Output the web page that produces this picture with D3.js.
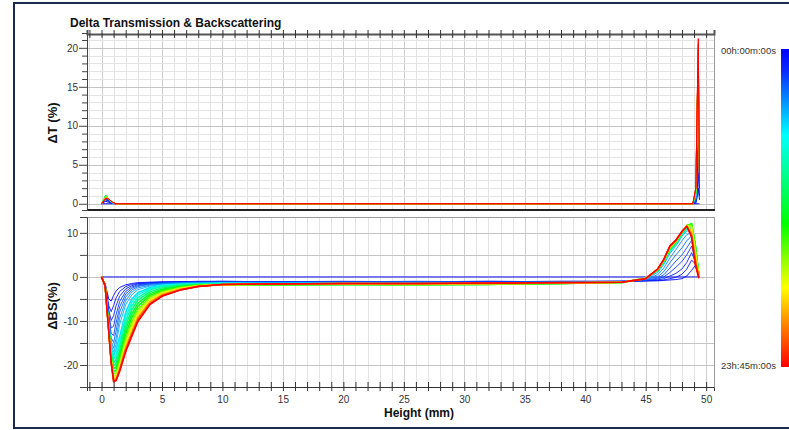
<!DOCTYPE html>
<html><head><meta charset="utf-8">
<script src="https://cdn.jsdelivr.net/npm/d3@7"></script>
<style>html,body{margin:0;padding:0;background:#fff;} svg{display:block;font-family:"Liberation Sans",Arial,sans-serif;}</style>
</head><body><svg id="c" width="789" height="430"></svg>
<script>
// ---------------- DATA ----------------
const title = "Delta Transmission & Backscattering";
const xLabel = "Height (mm)";
const yLabelT = "ΔT (%)";
const yLabelB = "ΔBS(%)";
const timeLabels = ["00h:00m:00s", "23h:45m:00s"];
const xTickLabels = [0, 5, 10, 15, 20, 25, 30, 35, 40, 45, 50];
const yTickLabelsT = [0, 5, 10, 15, 20];
const yTickLabelsB = [-20, -10, 0, 10];

// fraction of elapsed time (0 = 00h00, 1 = 23h45) for each scan
const scanTime = [0, 0.015, 0.035, 0.055, 0.08, 0.105, 0.13, 0.16, 0.19,
  0.24, 0.30, 0.36, 0.42, 0.49, 0.56, 0.63, 0.70, 0.77, 0.84, 0.90, 0.95, 1.0];

// heights (mm) at which Delta BS is read
const heightsBS = [0, 0.3, 0.6, 0.8, 1.0, 1.2, 1.5, 2.0, 2.5, 3.0, 4.0, 5.0, 6.5, 8.0,
  10, 14, 20, 26, 32, 38, 43,
  45, 46, 46.5, 47, 47.5, 48, 48.4, 48.8, 49.1, 49.4];

// Delta BS (%) per scan  (dip | flat | top peak)
const deltaBS = [
  [0,0,0,0,0,0,0,0,0,0,0,0,0,0, 0,0,0,0,0,0,0, 0,0,0,0,0,0,0,0,0,0],
  [0,-1.5,-5.0,-5.5,-4.2,-3.2,-2.4,-1.8,-1.5,-1.3,-1.2,-1.1,-1.1,-1.0, -1.0,-1.1,-1.0,-1.1,-1.0,-1.1,-1.0, -0.9,-0.9,-0.8,-0.7,-0.6,-0.4,0.2,1.5,2.6,0],
  [0,-1.6,-6.5,-7.9,-6.5,-4.8,-3.3,-2.2,-1.7,-1.5,-1.3,-1.2,-1.1,-1.1, -1.0,-1.1,-1.1,-1.0,-1.1,-1.0,-1.0, -0.9,-0.8,-0.7,-0.4,-0.1,0.6,1.8,3.8,3.0,0],
  [0,-1.6,-7.5,-9.9,-8.8,-6.6,-4.4,-2.7,-2.0,-1.6,-1.4,-1.3,-1.2,-1.1, -1.1,-1.1,-1.2,-1.1,-1.0,-1.1,-1.0, -0.9,-0.7,-0.4,0.2,0.8,1.8,3.3,5.5,3.5,0],
  [0,-1.7,-8.5,-11.6,-11.2,-8.6,-5.6,-3.3,-2.3,-1.8,-1.5,-1.3,-1.2,-1.2, -1.1,-1.2,-1.1,-1.2,-1.1,-1.0,-1.0, -0.8,-0.5,0.0,1.0,2.2,3.5,5.0,7.0,4.0,0],
  [0,-1.7,-9.2,-12.8,-13.3,-10.5,-6.8,-3.9,-2.6,-2.0,-1.6,-1.4,-1.3,-1.2, -1.2,-1.2,-1.2,-1.1,-1.2,-1.1,-1.0, -0.7,-0.3,0.5,2.0,3.6,5.0,6.6,8.3,4.5,0],
  [0,-1.8,-9.8,-13.8,-14.9,-12.3,-8.0,-4.6,-3.0,-2.2,-1.7,-1.5,-1.3,-1.3, -1.2,-1.3,-1.2,-1.2,-1.3,-1.2,-1.1, -0.6,0.0,1.2,3.2,5.0,6.6,8.2,9.3,5.0,0],
  [0,-1.8,-10.3,-14.6,-16.2,-14.0,-9.4,-5.4,-3.5,-2.5,-1.9,-1.6,-1.4,-1.3, -1.3,-1.3,-1.3,-1.2,-1.3,-1.2,-1.1, -0.5,0.5,2.0,4.3,6.2,8.2,9.6,10.1,5.5,0],
  [0,-1.9,-10.8,-15.3,-17.1,-15.4,-10.8,-6.3,-4.1,-2.9,-2.1,-1.7,-1.5,-1.4, -1.3,-1.4,-1.3,-1.3,-1.3,-1.2,-1.1, -0.4,1.0,2.8,5.3,7.0,9.2,10.4,10.7,6.0,0],
  [0,-1.9,-11.2,-16.0,-17.9,-16.5,-13.5,-8.0,-5.0,-3.6,-2.4,-1.9,-1.6,-1.5, -1.4,-1.5,-1.4,-1.5,-1.4,-1.3,-1.2, -0.3,1.4,3.3,5.8,7.5,9.6,10.8,11.0,6.5,0.5],
  [0,-1.9,-11.4,-16.5,-18.7,-17.6,-14.6,-9.0,-5.8,-4.1,-2.7,-2.0,-1.7,-1.6, -1.5,-1.6,-1.5,-1.6,-1.5,-1.4,-1.2, -0.3,1.4,3.4,5.9,7.6,9.7,11.0,11.3,6.8,0.4],
  [0,-2.0,-11.6,-17.0,-19.5,-18.6,-15.6,-10.0,-6.6,-4.7,-3.0,-2.2,-1.8,-1.6, -1.6,-1.7,-1.6,-1.6,-1.6,-1.4,-1.3, -0.3,1.5,3.5,6.0,7.7,9.8,11.2,11.6,7.0,0.4],
  [0,-2.0,-11.8,-17.5,-20.2,-19.6,-16.6,-11.0,-7.5,-5.3,-3.4,-2.5,-1.9,-1.7, -1.7,-1.8,-1.7,-1.7,-1.6,-1.5,-1.3, -0.3,1.5,3.6,6.2,7.8,9.9,11.4,11.8,7.2,0.3],
  [0,-2.0,-11.9,-17.9,-20.8,-20.5,-17.5,-12.0,-8.4,-6.0,-3.8,-2.8,-2.1,-1.8, -1.7,-1.8,-1.7,-1.8,-1.7,-1.5,-1.3, -0.3,1.6,3.6,6.3,7.9,10.0,11.6,12.0,7.4,0.3],
  [0,-2.0,-12.0,-18.3,-21.4,-21.3,-18.4,-13.0,-9.3,-6.7,-4.2,-3.1,-2.3,-1.9, -1.8,-1.8,-1.7,-1.8,-1.7,-1.5,-1.3, -0.3,1.6,3.7,6.4,8.0,10.1,11.7,12.1,7.3,0.2],
  [0,-2.0,-12.1,-18.6,-22.0,-21.9,-19.2,-14.0,-10.2,-7.4,-4.6,-3.3,-2.4,-1.9, -1.8,-1.7,-1.7,-1.7,-1.6,-1.5,-1.3, -0.3,1.6,3.7,6.5,8.0,10.1,11.7,11.8,6.8,0.2],
  [0,-2.0,-12.2,-18.8,-22.5,-22.4,-19.9,-14.8,-11.0,-8.0,-5.0,-3.6,-2.5,-2.0, -1.8,-1.7,-1.6,-1.7,-1.6,-1.4,-1.3, -0.3,1.7,3.8,6.6,8.1,10.2,11.6,11.4,6.0,0.1],
  [0,-2.0,-12.3,-19.0,-22.9,-22.8,-20.4,-15.5,-11.8,-8.6,-5.4,-3.8,-2.7,-2.0, -1.8,-1.6,-1.6,-1.6,-1.5,-1.4,-1.2, -0.3,1.7,3.8,6.7,8.2,10.2,11.6,10.6,5.0,0.0],
  [0,-2.0,-12.4,-19.2,-23.2,-23.1,-20.8,-16.0,-12.5,-9.2,-5.7,-4.0,-2.8,-2.1, -1.7,-1.6,-1.5,-1.6,-1.5,-1.4,-1.2, -0.4,1.7,3.9,6.8,8.2,10.2,11.5,10.0,4.3,0.0],
  [0,-2.0,-12.4,-19.3,-23.5,-23.3,-21.1,-16.4,-13.0,-9.6,-6.0,-4.2,-2.9,-2.1, -1.7,-1.6,-1.5,-1.5,-1.5,-1.4,-1.2, -0.4,1.8,3.9,6.9,8.3,10.3,11.5,9.5,3.8,-0.1],
  [0,-2.0,-12.5,-19.4,-23.7,-23.5,-21.3,-16.7,-13.3,-9.9,-6.2,-4.3,-3.0,-2.2, -1.7,-1.6,-1.5,-1.5,-1.4,-1.3,-1.2, -0.4,1.8,4.0,7.0,8.3,10.3,11.5,9.2,3.2,-0.2],
  [0,-2.0,-12.5,-19.5,-23.8,-23.6,-21.5,-17.0,-13.5,-10.2,-6.3,-4.4,-3.0,-2.2, -1.7,-1.6,-1.5,-1.5,-1.4,-1.3,-1.2, -0.4,1.8,4.0,7.0,8.4,10.3,11.5,9.0,2.8,-0.3]
];

// heights (mm) at which Delta T is read
const heightsT = [0, 0.2, 0.35, 0.6, 0.9, 1.2, 10, 20, 30, 40, 48.9, 49.15, 49.25, 49.35, 49.45];

// Delta T (%) per scan
const deltaT = [
  [0,0,0,0,0,0, 0,0,0,0, 0,0,0,0,0],
  [0,0.2,0.3,0.2,0.05,0, 0,0,0,0, 0,0.1,0.8,2.0,0.5],
  [0,0.3,0.5,0.3,0.05,0, 0,0,0,0, 0,0.2,1.5,4.0,1.0],
  [0,0.3,0.6,0.3,0.1,0, 0,0,0,0, 0,0.3,3.0,7.0,2.0],
  [0,0.4,0.7,0.4,0.1,0, 0,0,0,0, 0,0.4,5.0,10.0,3.0],
  [0,0.4,0.8,0.4,0.1,0, 0,0,0,0, 0,0.5,7.0,13.0,4.0],
  [0,0.5,0.9,0.5,0.1,0, 0,0,0,0, 0,0.6,9.0,15.0,5.0],
  [0,0.5,1.0,0.5,0.1,0, 0,0,0,0, 0,0.7,10.0,16.5,5.6],
  [0,0.5,1.0,0.5,0.1,0, 0,0,0,0, 0,0.8,11.0,17.0,5.6],
  [0,0.5,1.0,0.5,0.15,0, 0,0,0,0, 0,1.0,11.0,17.2,5.0],
  [0,0.5,1.05,0.55,0.15,0, 0,0,0,0, 0,1.1,11.2,17.4,4.8],
  [0,0.55,1.1,0.6,0.15,0, 0,0,0,0, 0,1.2,11.3,17.5,4.6],
  [0,0.55,1.1,0.6,0.2,0, 0,0,0,0, 0,1.3,11.4,17.7,4.4],
  [0,0.6,1.1,0.6,0.2,0, 0,0,0,0, 0,1.4,11.5,17.8,4.2],
  [0,0.55,1.05,0.6,0.2,0, 0,0,0,0, 0,1.5,11.6,18.0,4.0],
  [0,0.5,1.0,0.6,0.2,0, 0,0,0,0, 0,1.6,11.7,18.2,3.8],
  [0,0.5,0.9,0.6,0.2,0, 0,0,0,0, 0,1.7,11.8,18.5,3.6],
  [0,0.45,0.85,0.6,0.2,0, 0,0,0,0, 0,1.8,11.8,18.9,3.4],
  [0,0.45,0.8,0.6,0.2,0, 0,0,0,0, 0,1.9,11.9,19.3,3.2],
  [0,0.4,0.75,0.6,0.2,0, 0,0,0,0, 0,2.0,11.9,19.8,3.0],
  [0,0.4,0.7,0.6,0.2,0, 0,0,0,0, 0,2.0,12.0,20.5,2.8],
  [0,0.4,0.7,0.6,0.2,0, 0,0,0,0, 0,2.0,12.0,21.2,2.5]
];

// colour bar (time fraction -> colour)
const colorStops = [0, 0.07, 0.27, 0.55, 0.75, 0.87, 1];
const colorRange = ["#0000ff", "#0a2cff", "#00ffff", "#00ff00", "#ffff00", "#ff8000", "#ff0000"];

// ---------------- DRAW ----------------
const svg = d3.select("#c");
const L = 87, R = 714;
const topT = 33, botT = 210, topB = 217, botB = 387;

const x = d3.scaleLinear().domain([-1.2, 50.65]).range([L, R]);
const yT = d3.scaleLinear().domain([-0.8, 21.9]).range([botT, topT]);
const yB = d3.scaleLinear().domain([-25, 13.6]).range([botB, topB]);
const color = d3.scaleLinear().domain(colorStops).range(colorRange).interpolate(d3.interpolateRgb);

const defs = svg.append("defs");
defs.append("clipPath").attr("id", "clipT").append("rect")
  .attr("x", L).attr("y", topT).attr("width", R - L).attr("height", botT - topT);
defs.append("clipPath").attr("id", "clipB").append("rect")
  .attr("x", L).attr("y", topB).attr("width", R - L).attr("height", botB - topB);

// outer frame
svg.append("rect").attr("x", 14).attr("y", 3).attr("width", 800).attr("height", 425)
  .attr("fill", "none").attr("stroke", "#1b2a4e").attr("stroke-width", 2);

// title
svg.append("text").attr("x", 70).attr("y", 26.5).attr("font-size", 12).attr("font-weight", "bold")
  .attr("fill", "#111").text(title);

const xGrid = d3.range(-1, 51);

function drawGrid(y0, y1, hLines, isMajorH) {
  const g = svg.append("g");
  g.selectAll("line.v").data(xGrid).join("line")
    .attr("x1", d => Math.round(x(d)) + 0.5).attr("x2", d => Math.round(x(d)) + 0.5)
    .attr("y1", y0).attr("y2", y1)
    .attr("stroke", d => d % 5 === 0 ? "#cfcfcf" : "#e4e4e4").attr("stroke-width", 1);
  g.selectAll("line.h").data(hLines).join("line")
    .attr("x1", L).attr("x2", R)
    .attr("y1", d => Math.round(d.y) + 0.5).attr("y2", d => Math.round(d.y) + 0.5)
    .attr("stroke", d => isMajorH(d.v) ? "#c4c4c4" : "#e4e4e4").attr("stroke-width", 1);
}
drawGrid(topT, botT, d3.range(0, 22).map(v => ({v, y: yT(v)})), v => v % 5 === 0);
drawGrid(topB, botB, d3.range(-25, 11, 5).map(v => ({v, y: yB(v)})), v => true);

// curves
function drawCurves(clip, heights, rows, yScale, widthFn) {
  const g = svg.append("g").attr("clip-path", `url(#${clip})`);
  const line = d3.line().x(d => x(d[0])).y(d => yScale(d[1])).defined(d => d[1] != null && !isNaN(d[1]));
  rows.forEach((row, i) => {
    const pts = heights.map((h, j) => [h, row[j]]);
    g.append("path").attr("d", line(pts)).attr("fill", "none")
      .attr("stroke", color(scanTime[i])).attr("stroke-width", widthFn(i))
      .attr("stroke-linejoin", "round");
  });
}
drawCurves("clipT", heightsT, deltaT, yT, i => 1);
drawCurves("clipB", heightsBS, deltaBS, yB, i => i < 9 ? 0.9 : 1.5);

// panel borders
svg.append("line").attr("x1", R + 0.5).attr("x2", R + 0.5).attr("y1", topT).attr("y2", botT).attr("stroke", "#9a9a9a");
svg.append("line").attr("x1", R + 0.5).attr("x2", R + 0.5).attr("y1", topB).attr("y2", botB).attr("stroke", "#9a9a9a");
svg.append("line").attr("x1", L).attr("x2", R).attr("y1", topB + 0.5).attr("y2", topB + 0.5).attr("stroke", "#9a9a9a");
svg.append("line").attr("x1", L).attr("x2", R + 1).attr("y1", botT).attr("y2", botT).attr("stroke", "#222").attr("stroke-width", 2);

// top x-axis (ticks crossing) of the ΔT panel
const axTop = svg.append("g").attr("transform", `translate(0,${topT + 1})`)
  .call(d3.axisTop(x).tickValues(xGrid).tickSize(4).tickFormat(""));
axTop.select(".domain").attr("stroke", "#555").attr("stroke-width", 2);
axTop.selectAll(".tick line").attr("y2", -4).attr("y1", 4).attr("stroke", "#333");

// bottom x-axis
const axB = svg.append("g").attr("transform", `translate(0,${botB})`)
  .call(d3.axisBottom(x).tickValues(xGrid).tickSize(4).tickPadding(5)
    .tickFormat(d => xTickLabels.includes(d) ? String(d) : ""));
axB.select(".domain").attr("stroke", "#333");
axB.selectAll(".tick line").attr("y1", -5).attr("y2", 4).attr("stroke", "#333");
axB.selectAll(".tick text").attr("font-size", 10).attr("fill", "#333").attr("font-family", "Liberation Sans, Arial, sans-serif");

// left axis ΔT
const axLT = svg.append("g").attr("transform", `translate(${L},0)`)
  .call(d3.axisLeft(yT).tickValues(d3.range(0, 22)).tickSize(5).tickPadding(4)
    .tickFormat(d => yTickLabelsT.includes(d) ? String(d) : ""));
axLT.select(".domain").attr("stroke", "#444");
axLT.selectAll(".tick line").attr("x2", d => d % 5 === 0 ? -8 : -5).attr("stroke", "#444");
axLT.selectAll(".tick text").attr("x", -9).attr("font-size", 10).attr("fill", "#333").attr("font-family", "Liberation Sans, Arial, sans-serif");

// left axis ΔBS
const axLB = svg.append("g").attr("transform", `translate(${L},0)`)
  .call(d3.axisLeft(yB).tickValues(d3.range(-25, 11, 5)).tickSize(7).tickPadding(2)
    .tickFormat(d => yTickLabelsB.includes(d) ? String(d) : ""));
axLB.select(".domain").attr("stroke", "#444");
axLB.selectAll(".tick line").attr("stroke", "#444");
axLB.selectAll(".tick text").attr("font-size", 10).attr("fill", "#333").attr("font-family", "Liberation Sans, Arial, sans-serif");

// axis labels
svg.append("text").attr("transform", "translate(57,123) rotate(-90)").attr("text-anchor", "middle")
  .attr("font-size", 13).attr("font-weight", "bold").attr("fill", "#111").text(yLabelT);
svg.append("text").attr("transform", "translate(57,306) rotate(-90)").attr("text-anchor", "middle")
  .attr("font-size", 13).attr("font-weight", "bold").attr("fill", "#111").text(yLabelB);
svg.append("text").attr("x", 419).attr("y", 417).attr("text-anchor", "middle")
  .attr("font-size", 12).attr("font-weight", "bold").attr("fill", "#111").text(xLabel);

// colour bar
const grad = defs.append("linearGradient").attr("id", "cbar").attr("x1", 0).attr("x2", 0).attr("y1", 0).attr("y2", 1);
colorStops.forEach((s, i) => grad.append("stop").attr("offset", s).attr("stop-color", colorRange[i]));
svg.append("rect").attr("x", 781).attr("y", 49).attr("width", 12).attr("height", 318).attr("fill", "url(#cbar)");
svg.append("text").attr("x", 721).attr("y", 53.5).attr("font-size", 9.5).attr("fill", "#333").text(timeLabels[0]);
svg.append("text").attr("x", 721).attr("y", 369).attr("font-size", 9.5).attr("fill", "#333").text(timeLabels[1]);
</script></body></html>
